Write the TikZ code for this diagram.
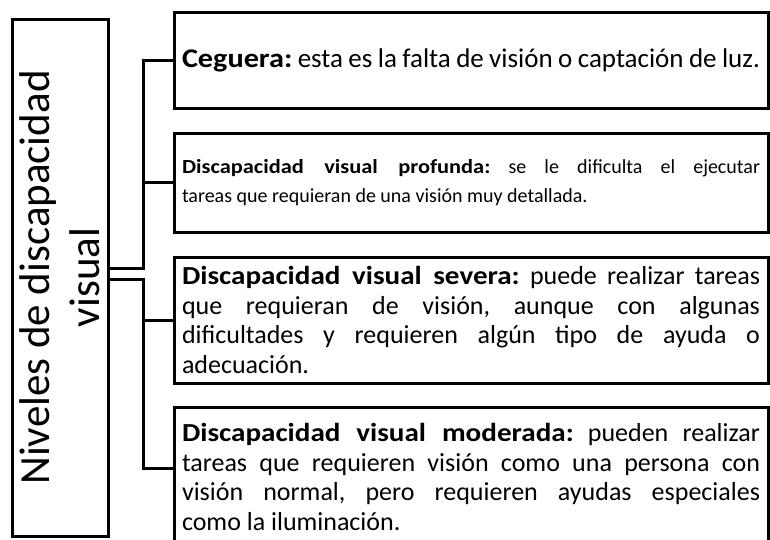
\documentclass[tikz,border=0pt]{standalone}
\usepackage{fontspec}
\setmainfont{Carlito}[BoldFeatures={FakeStretch=1.12}]
\usepackage{tikz}
\usetikzlibrary{positioning}
\frenchspacing
\tikzset{
nivbox/.style={
  draw,
  line width=3pt,
  outer sep=0pt,
  rotate=90,
  align=center,
  minimum width=517pt,
  minimum height=96pt,
  font=\fontsize{43}{50}\selectfont
},
level/.style={
  draw,
  line width=3pt,
  outer sep=0pt,
  minimum width=594pt,
  text width=578pt,
  inner xsep=8pt,
  inner ysep=0pt,
  align=justify
},
conn/.style={line width=3pt},
}

\begin{document}
\begin{tikzpicture}[x=1pt,y=-1pt]
\clip (0,0) rectangle (770,539);
\fill[white] (0,0) rectangle (770,539);
% the boxes
\node (niv) [nivbox] at (60,277.5) {Niveles de discapacidad\\visual};
\node (ceg) [level,anchor=north west,minimum height=96pt,
  font=\fontsize{27}{32}\selectfont] at (174,12)
  {\textbf{Ceguera:} esta es la falta de visión o captación de luz.};
\node (prof) [level,minimum height=99pt,font=\fontsize{20}{29}\selectfont,
  below right=25pt and 0pt of ceg.south west]
  {\textbf{Discapacidad visual profunda:} se le dificulta el ejecutar\linebreak
   tareas que requieran de una visión muy detallada.};
\node (sev) [level,minimum height=126pt,font=\fontsize{26}{29.5}\selectfont,
  below right=25pt and 0pt of prof.south west]
  {\textbf{Discapacidad visual severa:} puede realizar tareas\linebreak
   que requieran de visión, aunque con algunas\linebreak
   dificultades y requieren algún tipo de ayuda o\linebreak
   adecuación.};
\node (mod) [level,minimum height=140pt,font=\fontsize{26}{29.5}\selectfont,
  below right=24pt and 0pt of sev.south west]
  {\textbf{Discapacidad visual moderada:} pueden realizar\linebreak
   tareas que requieren visión como una persona con\linebreak
   visión normal, pero requieren ayudas especiales\linebreak
   como la iluminación.};
% the connectors
\coordinate (modin) at ([yshift=-61pt]mod.north west);
\draw[conn] ([yshift=9pt]niv.south) -| ([xshift=-31pt]ceg.west) -- (ceg.west);
\draw[conn] ([yshift=-1.5pt]niv.south) -| ([xshift=-31pt]modin) -- (modin);
\foreach \x in {prof,sev}
{
  \draw[conn] (\x.west) -- ([xshift=-31pt]\x.west);
}
\end{tikzpicture}
\end{document}
